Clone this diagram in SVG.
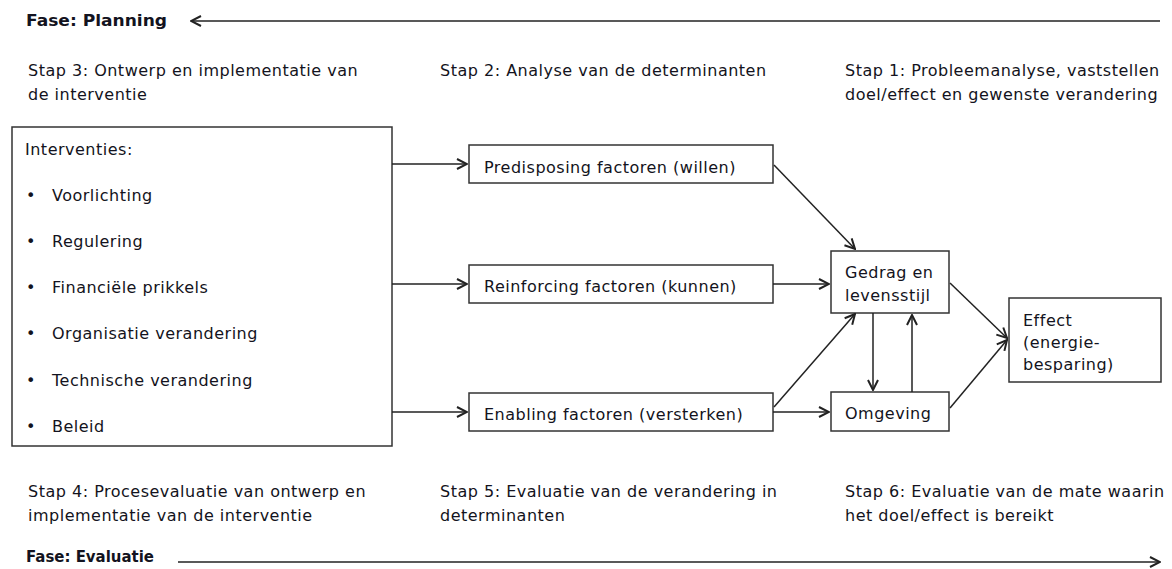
<svg xmlns="http://www.w3.org/2000/svg" width="1172" height="569" viewBox="0 0 1172 569">
<style>
text{font-family:"DejaVu Sans","Liberation Sans",sans-serif;font-size:16px;letter-spacing:0.5px;fill:#131320}
.b{font-weight:bold;letter-spacing:0}
.box{fill:#fff;stroke:#333;stroke-width:1.5}
.c{stroke:#222;stroke-width:1.5;fill:none}
</style>
<defs>
<marker id="ah" viewBox="0 0 12 12" refX="11" refY="6" markerWidth="12" markerHeight="12" markerUnits="userSpaceOnUse" orient="auto-start-reverse">
<path d="M1,1 L11,6 L1,11" fill="none" stroke="#222" stroke-width="2"/>
</marker>
</defs>
<rect width="1172" height="569" fill="#fff"/>
<g id="labels">
<text class="b" x="26" y="26" textLength="141" lengthAdjust="spacingAndGlyphs">Fase: Planning</text>
<text x="28" y="76">Stap 3: Ontwerp en implementatie van</text>
<text x="28" y="100">de interventie</text>
<text x="440" y="76">Stap 2: Analyse van de determinanten</text>
<text x="845" y="76">Stap 1: Probleemanalyse, vaststellen</text>
<text x="845" y="100">doel/effect en gewenste verandering</text>
<text x="28" y="497">Stap 4: Procesevaluatie van ontwerp en</text>
<text x="28" y="521">implementatie van de interventie</text>
<text x="440" y="497">Stap 5: Evaluatie van de verandering in</text>
<text x="440" y="521">determinanten</text>
<text x="845" y="497">Stap 6: Evaluatie van de mate waarin</text>
<text x="845" y="521">het doel/effect is bereikt</text>
<text class="b" x="26" y="562" textLength="128" lengthAdjust="spacingAndGlyphs">Fase: Evaluatie</text>
</g>
<g id="interventies">
<rect class="box" x="12" y="127" width="380" height="319"/>
<text x="25" y="155">Interventies:</text>
<text x="26" y="201">•</text><text x="52" y="201">Voorlichting</text>
<text x="26" y="247">•</text><text x="52" y="247">Regulering</text>
<text x="26" y="293">•</text><text x="52" y="293">Financiële prikkels</text>
<text x="26" y="339">•</text><text x="52" y="339">Organisatie verandering</text>
<text x="26" y="386">•</text><text x="52" y="386">Technische verandering</text>
<text x="26" y="432">•</text><text x="52" y="432">Beleid</text>
</g>
<g id="predisposing">
<rect class="box" x="469" y="145" width="304" height="38"/>
<text x="484" y="173">Predisposing factoren (willen)</text>
</g>
<g id="reinforcing">
<rect class="box" x="469" y="265" width="304" height="38"/>
<text x="484" y="292">Reinforcing factoren (kunnen)</text>
</g>
<g id="enabling">
<rect class="box" x="469" y="393" width="304" height="38"/>
<text x="484" y="420">Enabling factoren (versterken)</text>
</g>
<g id="gedrag">
<rect class="box" x="831" y="251" width="118" height="62"/>
<text x="845" y="278">Gedrag en</text>
<text x="845" y="301">levensstijl</text>
</g>
<g id="omgeving">
<rect class="box" x="831" y="392" width="118" height="39"/>
<text x="845" y="419">Omgeving</text>
</g>
<g id="effect">
<rect class="box" x="1009" y="298" width="152" height="84"/>
<text x="1023" y="326">Effect</text>
<text x="1023" y="348">(energie-</text>
<text x="1023" y="370">besparing)</text>
</g>
<g id="connectors">
<line class="c" x1="1160" y1="21" x2="191" y2="21" marker-end="url(#ah)"/>
<line class="c" x1="178" y1="562" x2="1160" y2="562" marker-end="url(#ah)"/>
<line class="c" x1="392" y1="164" x2="467" y2="164" marker-end="url(#ah)"/>
<line class="c" x1="392" y1="284" x2="467" y2="284" marker-end="url(#ah)"/>
<line class="c" x1="392" y1="412" x2="467" y2="412" marker-end="url(#ah)"/>
<line class="c" x1="774" y1="165" x2="855" y2="249" marker-end="url(#ah)"/>
<line class="c" x1="773" y1="284" x2="829" y2="284" marker-end="url(#ah)"/>
<line class="c" x1="774" y1="407" x2="855" y2="314" marker-end="url(#ah)"/>
<line class="c" x1="773" y1="412" x2="829" y2="412" marker-end="url(#ah)"/>
<line class="c" x1="873" y1="313" x2="873" y2="390" marker-end="url(#ah)"/>
<line class="c" x1="912" y1="392" x2="912" y2="315" marker-end="url(#ah)"/>
<line class="c" x1="950" y1="283" x2="1007" y2="338" marker-end="url(#ah)"/>
<line class="c" x1="950" y1="408" x2="1007" y2="340" marker-end="url(#ah)"/>
</g>
</svg>
